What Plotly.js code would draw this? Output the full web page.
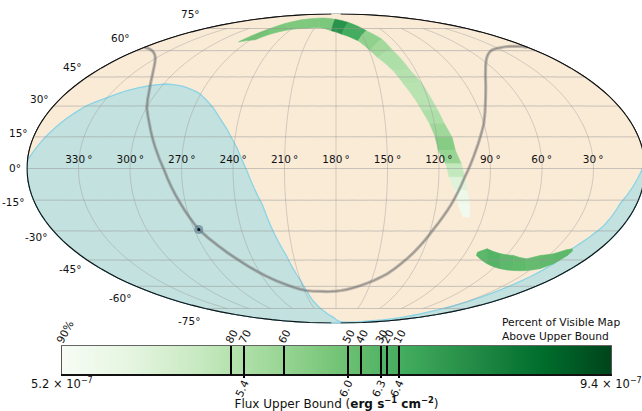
<!DOCTYPE html><html><head><meta charset="utf-8"><script src="https://cdn.plot.ly/plotly-3.0.1.min.js"></script><style>html,body{margin:0;padding:0;overflow:hidden;background:#fff}#chart{width:660px;height:411px}</style></head><body><div id="chart"></div><script>
// Sky positions are Right Ascension (deg, as labelled on the map) and Declination (deg)
var occultRA=[359.9,354,346,339,330,321,308,298,285,271,258,246,238,232,224,221,215,210,208,206,199,186,163,100,61,45,36,36,31,25,19,19,12,10,2,0.1];
var occultDec=[3.8,13.3,23.9,30.3,34.3,37.9,40.5,41.3,40,36.4,29.3,19,9.5,-0.9,-17.6,-27.3,-42.6,-56.5,-62.6,-69.2,-76.6,-82.4,-87.3,-88.3,-86.9,-85.2,-82.4,-79.3,-72.8,-61.4,-46.9,-38.9,-27.3,-16.6,-0.9,3.8];
var planeRA=[359.5,346,330,314,306,300,293,286,280,273,267,259.4,250.4,240,226,209,194,175,158,139,126,118,111,105,98,90,83,71,55,40,25,4,0.5];
var planeDec=[62,60.1,55.4,45.8,37.9,29.3,20.5,9.5,-0.9,-16.6,-29.3,-37.4,-45.1,-52.2,-58.3,-62.6,-63.2,-62.6,-59.5,-52.5,-41,-28.8,-17.1,-4.3,8.5,21.4,32.8,45.8,55.4,60.1,62,62.6,62];
var centerRA=[267], centerDec=[-29.3];
// upper region: cross-sections along the arc (side 1 / side 2) and colour-bar level between them
var arcRA1=[279,276,271,266,254,225,182,158,141,131,129,124,120,118,116,114,111,110,107,105,103,100,98];
var arcDec1=[65.6,69.7,74.5,79.1,82.4,84.1,83,79.9,73.3,67.4,60.9,48.6,41.4,34.5,27.8,21.3,14.8,8.5,2.2,-4.1,-10.4,-16.8,-23.2];
var arcRA2=[279,265,258,243,221,203,186,173,157,149,145,137,133,129,126,123,121,120,116,114,110,107,102];
var arcDec2=[65.6,67,70.8,74,75.2,75.8,73.3,70.8,66.3,59.9,55.9,48.6,41.4,34.5,27.8,21.3,14.8,8.5,2.2,-4.1,-10.4,-16.8,-23.2];
var arcLevel=[0.5,0.5,0.48,0.47,0.47,0.48,0.72,0.62,0.42,0.37,0.33,0.31,0.3,0.3,0.33,0.38,0.45,0.4,0.26,0.15,0.07,0.04];
// lower region
var southRA1=[82,77,65,55,43,36,28,22,19];
var southDec1=[-40.9,-39.1,-41.7,-42.6,-44.4,-42.6,-41.7,-39.6,-39.1];
var southRA2=[81,68,54,42,32,24,19,17,17];
var southDec2=[-42.6,-47.1,-49.8,-50.8,-50.8,-49.8,-47.1,-42.6,-40.3];
var southLevel=[0.56,0.58,0.56,0.55,0.54,0.55,0.56,0.56];
// grid and labels
var decTicks=[-75,-60,-45,-30,-15,0,15,30,45,60,75];
var raTicks=[330,300,270,240,210,180,150,120,90,60,30];
var decLabels=['-75°','-60°','-45°','-30°','-15°','0°','15°','30°','45°','60°','75°'];
var decLabelX=[189,120,70,36,13,15,18,39,72,121,190];
var decLabelY=[321,298,269,237,202,168,133,99,67,38,14];
var raStations=[-179.9,-175,-170,-165,-160,-150,-140,-130,-120,-110,-100,-90,-80,-70,-60,-50,-40,-30,-20,-10,0,10,20,30,40,50,60,70,80,90,100,110,120,130,140,150,160,165,170,175,179.9];
var decStations=[-75,-70,-65,-60,-55,-50,-45,-40,-35,-30,-25,-20,-15,-10,-5,0,5,10,15,20,25,30,35,40,45,50,55,60,65,70,75];
var edgeDec=[-89.9,-85,-80,-75,-70,-65,-60,-50,-40,-30,-20,-10,0,10,20,30,40,50,60,65,70,75,80,85,89.9];
// colour bar
var greens=[[0,'#f7fcf5'],[0.125,'#e5f5e0'],[0.25,'#c7e9c0'],[0.375,'#a1d99b'],[0.5,'#74c476'],[0.625,'#41ab5d'],[0.75,'#238b45'],[0.875,'#006d2c'],[1,'#00441b']];
var percentPos=[0,0.308,0.332,0.404,0.521,0.545,0.581,0.592,0.614];
var percentText=['90%','80','70','60','50','40','30','20','10'];
var fluxPos=[0.332,0.521,0.581,0.614];
var fluxText=['5.4','6.0','6.3','6.4'];

var W=660,H=411;
function lon(ra){return ra.map(function(r){return 180-r;});}
function hex(c){return [parseInt(c.substr(1,2),16),parseInt(c.substr(3,2),16),parseInt(c.substr(5,2),16)];}
function levelColor(t){for(var i=1;i<greens.length;i++){if(t<=greens[i][0]){var f=(t-greens[i-1][0])/(greens[i][0]-greens[i-1][0]),a=hex(greens[i-1][1]),b=hex(greens[i][1]);return 'rgb('+[0,1,2].map(function(k){return Math.round(a[k]+(b[k]-a[k])*f);}).join(',')+')';}}return greens[greens.length-1][1];}
var noHover={hoverinfo:'skip',showlegend:false};
function geoLine(lons,lats,color,width){return Object.assign({type:'scattergeo',mode:'lines',lon:lons,lat:lats,line:{color:color,width:width}},noHover);}
function patch(lons,lats,fill,lineColor,lw){return Object.assign({type:'scattergeo',mode:'lines',lon:lons,lat:lats,fill:'toself',fillcolor:fill,line:{color:lineColor,width:lw}},noHover);}
var traces=[];
// sphere background: everything outside a tiny cap round the south pole
traces.push(patch([-180,-120,-60,0,60,120,180].map(function(v){return -v*0.999;}),[-89.99,-89.99,-89.99,-89.99,-89.99,-89.99,-89.99],'#faebd7','rgba(0,0,0,0)',0));
traces.push(patch(lon(occultRA),occultDec,'rgba(125,212,232,0.44)','#8ad4e6',1.3));
function bands(ra1,dec1,ra2,dec2,lev){for(var i=0;i<lev.length;i++){var c=levelColor(lev[i]);
  traces.push(patch(lon([ra1[i],ra1[i+1],ra2[i+1],ra2[i],ra1[i]]),[dec1[i],dec1[i+1],dec2[i+1],dec2[i],dec1[i]],c,c,0.6));}}
bands(arcRA1,arcDec1,arcRA2,arcDec2,arcLevel);
bands(southRA1,southDec1,southRA2,southDec2,southLevel);
decTicks.forEach(function(d){traces.push(geoLine(raStations,raStations.map(function(){return d;}),'rgba(150,150,150,0.5)',1));});
raTicks.forEach(function(r){traces.push(geoLine(decStations.map(function(){return 180-r;}),decStations,'rgba(150,150,150,0.5)',0.8));});
traces.push(geoLine(lon(planeRA),planeDec,'rgba(120,120,120,0.45)',3.2));
traces.push(geoLine(lon(planeRA),planeDec,'rgba(90,90,90,0.38)',1.2));
traces.push(Object.assign({type:'scattergeo',mode:'markers',lon:lon(centerRA),lat:centerDec,marker:{size:9,color:'rgba(80,120,140,0.6)',line:{width:0}}},noHover));
traces.push(Object.assign({type:'scattergeo',mode:'markers',lon:lon(centerRA),lat:centerDec,marker:{size:3,color:'#111',line:{width:0}}},noHover));
traces.push(geoLine(edgeDec.map(function(){return -179.95;}),edgeDec,'#111',1.1));
traces.push(geoLine(edgeDec.map(function(){return 179.95;}),edgeDec,'#111',1.1));
traces.push(Object.assign({type:'scattergeo',mode:'text',lon:lon(raTicks),lat:raTicks.map(function(){return 3.8;}),text:raTicks.map(function(r){return r+'\u2009°';}),textposition:'middle center',textfont:{family:'DejaVu Sans',size:10.5,color:'#111'}},noHover));
// colour bar
traces.push({type:'heatmap',x:[0,1],y:[0,1],z:[[0,1],[0,1]],zmin:0,zmax:1,zsmooth:'best',colorscale:greens,showscale:false,hoverinfo:'skip',xaxis:'x',yaxis:'y'});
traces.push({type:'scatter',mode:'none',x:[0,1],y:[0,1],xaxis:'x2',yaxis:'y',showlegend:false,hoverinfo:'skip'});

var font={family:'DejaVu Sans',color:'#111'};
var annotations=decLabels.map(function(t,i){return {text:t,xref:'paper',yref:'paper',x:decLabelX[i]/W,y:1-decLabelY[i]/H,showarrow:false,xanchor:'center',yanchor:'middle',font:Object.assign({size:10.5},font)};});
annotations.push({text:'5.2 × 10<sup>−7</sup>',xref:'paper',yref:'paper',x:62/W,y:1-383/H,showarrow:false,xanchor:'center',yanchor:'middle',font:Object.assign({size:11.5},font)});
annotations.push({text:'9.4 × 10<sup>−7</sup>',xref:'paper',yref:'paper',x:611/W,y:1-383/H,showarrow:false,xanchor:'center',yanchor:'middle',font:Object.assign({size:11.5},font)});
annotations.push({text:'Percent of Visible Map<br>Above Upper Bound',xref:'paper',yref:'paper',x:499.5/W,y:1-329.5/H,showarrow:false,xanchor:'left',yanchor:'middle',align:'left',font:Object.assign({size:10.7},font)});
var layout={width:W,height:H,margin:{l:0,r:0,t:0,b:0},paper_bgcolor:'#fff',plot_bgcolor:'#fff',showlegend:false,annotations:annotations,
 geo:{domain:{x:[27/W,645/W],y:[(H-323)/H,(H-14)/H]},projection:{type:'mollweide'},bgcolor:'rgba(0,0,0,0)',showframe:true,framecolor:'#111',framewidth:1,
  showcoastlines:false,showland:false,showocean:false,showlakes:false,showrivers:false,showcountries:false,showsubunits:false,lonaxis:{showgrid:false},lataxis:{showgrid:false}},
 xaxis:{domain:[62/W,611/W],range:[0,1],tickmode:'array',tickvals:fluxPos,ticktext:fluxText,tickangle:-65,ticks:'outside',ticklen:2,tickwidth:2,tickcolor:'#000',showline:true,linecolor:'#111',linewidth:1.5,showgrid:false,zeroline:false,tickfont:Object.assign({size:10.8},font),ticklabelstandoff:-5,anchor:'y',
   title:{text:'Flux Upper Bound (<b>erg s<sup>−1</sup> cm<sup>−2</sup></b>)',font:Object.assign({size:12},font),standoff:0}},
 xaxis2:{overlaying:'x',side:'top',domain:[62/W,611/W],range:[0,1],tickmode:'array',tickvals:percentPos,ticktext:percentText,tickangle:-62,ticks:'inside',ticklen:29,tickwidth:2,tickcolor:'#000',showline:true,linecolor:'#666',linewidth:1.5,showgrid:false,zeroline:false,tickfont:Object.assign({size:10.8},font),ticklabelstandoff:-7,ticklabelshift:-4,anchor:'y'},
 yaxis:{domain:[(H-374)/H,(H-346)/H],range:[0,1],showticklabels:false,ticks:'',showgrid:false,zeroline:false,showline:true,linecolor:'#555',linewidth:1,mirror:true}};
Plotly.newPlot('chart',traces,layout,{displayModeBar:false,staticPlot:true});
</script></body></html>
